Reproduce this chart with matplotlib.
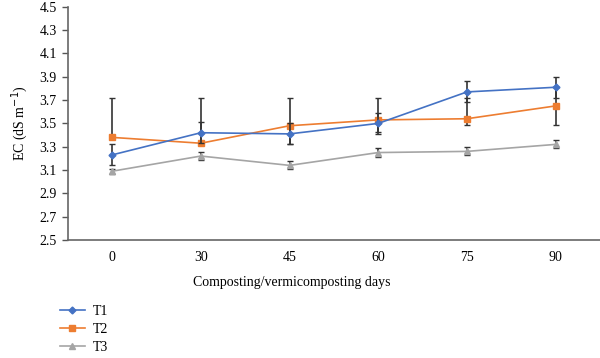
import numpy as np
import matplotlib
matplotlib.use("Agg")
import matplotlib.pyplot as plt
from matplotlib.lines import Line2D

# data
days = ["0", "30", "45", "60", "75", "90"]
t1 = [3.23, 3.42, 3.41, 3.50, 3.77, 3.81]
t2 = [3.38, 3.33, 3.48, 3.53, 3.54, 3.65]
t3 = [3.09, 3.22, 3.14, 3.25, 3.26, 3.32]
t1_err = [0.09, 0.09, 0.09, 0.09, 0.09, 0.09]
t2_err_lo = [0.0, 0.0, 0.16, 0.10, 0.05, 0.165]
t2_err_hi = [0.34, 0.39, 0.24, 0.19, 0.18, 0.165]
t3_err = [0.02, 0.035, 0.035, 0.035, 0.035, 0.035]

plt.rcParams['font.family'] = ['Liberation Serif', 'DejaVu Serif']
plt.rcParams['font.size'] = 10

fig = plt.figure(figsize=(6, 3.58), dpi=100)
ax = fig.add_axes([0.113, 0.3296, 0.887, 0.6514])

x = np.arange(len(days))
ebkw = dict(ecolor='#333333', elinewidth=1.2, capsize=2.5, capthick=1.0)

ax.errorbar(x, t3, yerr=t3_err, color='#A5A5A5', marker='^', ms=5,
            lw=1.2, zorder=2, **ebkw)
ax.errorbar(x, t2, yerr=[t2_err_lo, t2_err_hi], color='#ED7D31', marker='s',
            ms=5, lw=1.2, zorder=3, **ebkw)
ax.errorbar(x, t1, yerr=t1_err, color='#4472C4', marker='D', ms=3.5,
            lw=1.2, zorder=4, **ebkw)

ax.set_xlim(-0.5, 5.5)
ax.set_ylim(2.5, 4.5)
ax.set_xticks(x)
ax.set_xticklabels(days)
ax.set_yticks(np.arange(2.5, 4.51, 0.2))
ax.set_yticklabels(["%.1f" % v for v in np.arange(2.5, 4.51, 0.2)])
ax.tick_params(axis='x', length=0, pad=8)
ax.tick_params(axis='y', length=4, width=1, color='#555555', pad=4)
ax.spines['top'].set_visible(False)
ax.spines['right'].set_visible(False)
for s in ('left', 'bottom'):
    ax.spines[s].set_color('#666666')
    ax.spines[s].set_linewidth(1.2)

ax.set_ylabel('EC (dS m$^{-1}$)', labelpad=7)
fig.text(292 / 600, 0.21, 'Composting/vermicomposting days', ha='center', va='center')

handles = [
    Line2D([], [], color='#4472C4', marker='D', ms=3.5, lw=1.2),
    Line2D([], [], color='#ED7D31', marker='s', ms=5, lw=1.2),
    Line2D([], [], color='#A5A5A5', marker='^', ms=5, lw=1.2),
]
fig.legend(handles, ['T1', 'T2', 'T3'], loc='center left', bbox_to_anchor=(0.09, 0.08),
           frameon=False, handlelength=1.8, labelspacing=0.35, handletextpad=0.6,
           borderaxespad=0)

fig.savefig('out.png', dpi=100)
